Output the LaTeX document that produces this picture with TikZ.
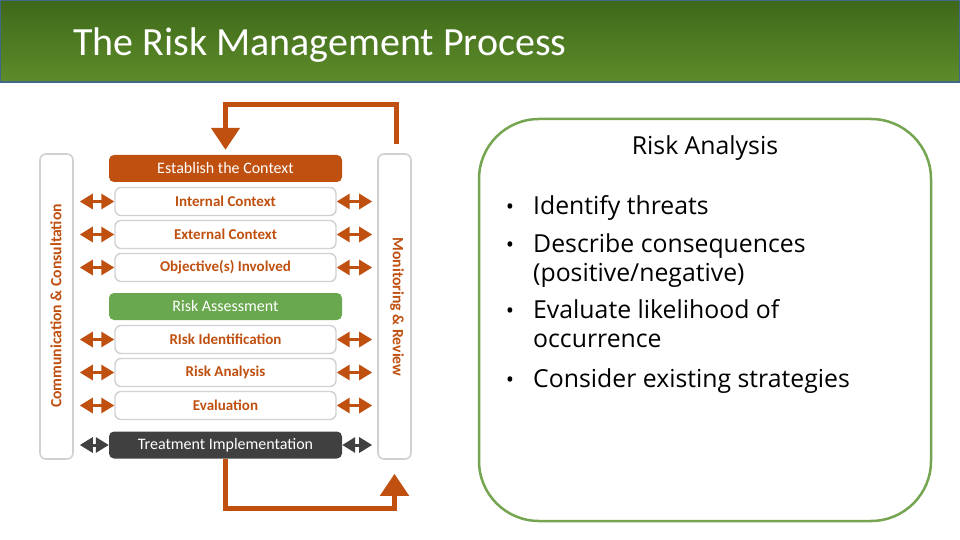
\documentclass[tikz,border=0pt]{standalone}
\usepackage{fontspec}
\setmainfont{Carlito}
\newfontfamily\panelfont{Open Sans}
\usetikzlibrary{arrows.meta, positioning}
\definecolor{rmorange}{RGB}{192,80,16}
\definecolor{rmgreen}{RGB}{106,168,79}
\definecolor{rmgrey}{RGB}{64,64,64}
\definecolor{titletop}{RGB}{62,104,26}
\definecolor{titlebot}{RGB}{94,140,42}
\definecolor{titleedge}{RGB}{65,105,135}
\definecolor{panelgreen}{RGB}{118,165,82}

\begin{document}
\begin{tikzpicture}[x=1pt, y=-1pt,
          titlebar/.style={
              draw=titleedge,
              top color=titletop,
              bottom color=titlebot,
              line width=1.5pt,
              minimum width=960pt,
              minimum height=82pt,
              inner sep=0pt
            },
          sidebar/.style={
              draw=black!18,
              fill=white,
              rounded corners=6pt,
              line width=1.6pt,
              minimum width=33pt,
              minimum height=305pt,
              inner sep=0pt
            },
          sidetext/.style={
              font=\fontsize{15.7}{18}\selectfont\bfseries,
              text=rmorange
            },
          headbox/.style={
              fill=#1,
              rounded corners=5pt,
              minimum width=233pt,
              minimum height=27pt,
              inner sep=0pt,
              text=white,
              font=\fontsize{16}{18}\selectfont
            },
          stepbox/.style={
              draw=black!18,
              fill=white,
              rounded corners=6pt,
              line width=1.4pt,
              minimum width=221pt,
              minimum height=28pt,
              inner sep=0pt,
              text=rmorange,
              font=\fontsize{15}{18}\selectfont\bfseries
            },
          biarr/.style={{Triangle[length=13pt,width=15pt]}-{Triangle[length=13pt,width=15pt]}, #1, line width=3pt},
          flow/.style={-{Triangle[length=22pt,width=28pt]}, rmorange, line width=5pt},
          panel/.style={
              draw=panelgreen,
              rounded corners=60pt,
              line width=2.5pt
            },
          itemtext/.style={
              font=\panelfont\fontsize{24.8}{29}\selectfont,
              anchor=base west,
              inner sep=0pt
            }
        ]
        \useasboundingbox (0,0) rectangle (960,540);

        % title bar
        \node[titlebar] (title_bar) at (480,41) {};
        \node[font=\fontsize{40}{48}\selectfont, text=white, anchor=base west, inner sep=0pt] (title) at (73,56) {The Risk Management Process};

        % side bars
        \node[sidebar] (comm_bar) at (56.5,306.5) {};
        \node[sidebar] (mon_bar) at (394.5,306.5) {};
        \node[sidetext, rotate=90] (comm_text) at (56,306) {Communication \& Consultation};
        \node[sidetext, rotate=-90] (mon_text) at (397,307) {Monitoring \& Review};

        % process boxes
        \node[headbox=rmorange] (context) at (225.5,168.5) {Establish the Context};
        \node[stepbox] (internal) at (225.5,201.5) {Internal Context};
        \node[stepbox] (external) at (225.5,234.5) {External Context};
        \node[stepbox] (objective) at (225.5,267.5) {Objective(s) Involved};
        \node[headbox=rmgreen] (assessment) at (225.5,306.5) {Risk Assessment};
        \node[stepbox] (identify) at (225.5,339.5) {RIsk Identification};
        \node[stepbox] (analysis) at (225.5,372.5) {Risk Analysis};
        \node[stepbox] (evaluation) at (225.5,405.5) {Evaluation};
        \node[headbox=rmgrey] (treatment) at (225.5,445) {Treatment Implementation};

        % two-way arrows to the side bars
        \foreach \s in {internal, external, objective, identify, analysis, evaluation}{
          \draw[biarr=rmorange] ([xshift=6pt]comm_bar.east |- \s.west) -- (\s.west);
          \draw[biarr=rmorange] (\s.east) -- ([xshift=-5pt]mon_bar.west |- \s.east);
        }
        \draw[biarr=rmgrey] ([xshift=6pt]comm_bar.east |- treatment.west) -- (treatment.west);
        \draw[biarr=rmgrey] (treatment.east) -- ([xshift=-5pt]mon_bar.west |- treatment.east);

        % feedback loop
        \coordinate (loop_top) at (396,105);
        \coordinate (loop_bot) at (222,508);
        \draw[flow] ([shift={(1.5pt,9pt)}]mon_bar.north) |- (loop_top -| context.north) -- ([yshift=5pt]context.north);
        \draw[flow] (treatment.south) |- (loop_bot -| mon_bar.south) -- ([yshift=-14pt]mon_bar.south);

        % risk analysis panel
        \draw[panel] (479,119) rectangle (931,521);
        \node[font=\panelfont\fontsize{24.8}{29}\selectfont, anchor=base, inner sep=0pt] (panel_title) at (705,155) {Risk Analysis};
        \node[itemtext] (item1) at (533,214) {Identify threats};
        \node[itemtext] (item2) at (533,252) {\begin{tabular}[t]{@{}l@{}}Describe consequences\\(positive/negative)\end{tabular}};
        \node[itemtext] (item3) at (533,318) {\begin{tabular}[t]{@{}l@{}}Evaluate likelihood of\\occurrence\end{tabular}};
        \node[itemtext] (item4) at (533,387) {Consider existing strategies};
        \foreach \i in {1,...,4}
          \node[font=\panelfont\fontsize{22}{26}\selectfont, anchor=base, inner sep=0pt] (dot\i) at ([xshift=-23pt]item\i.base west) {\textbullet};
      \end{tikzpicture}
\end{document}
